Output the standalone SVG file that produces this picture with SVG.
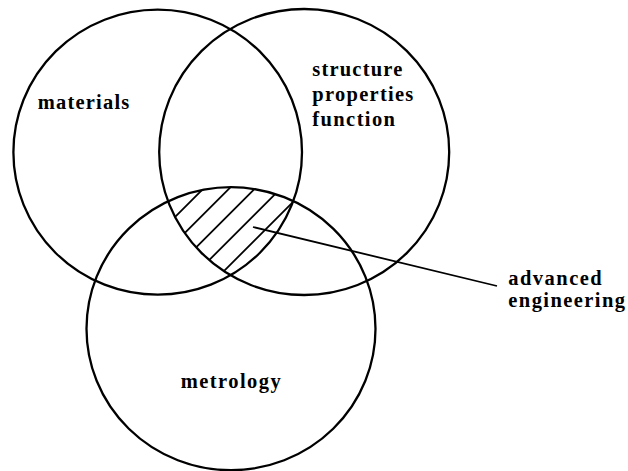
<svg xmlns="http://www.w3.org/2000/svg" width="628" height="471" viewBox="0 0 628 471">
<style>
.c{fill:none;stroke:#000;stroke-width:2.3}
.h{stroke:#000;stroke-width:1.8}
.l{stroke:#000;stroke-width:1.8;fill:none}
.t{font-family:"Liberation Serif",serif;font-weight:bold;font-size:20.5px;fill:#000}
</style>
<defs>
<clipPath id="cA"><ellipse cx="157.7" cy="152.2" rx="144.3" ry="142.5"/></clipPath>
<clipPath id="cB"><ellipse cx="304.2" cy="152" rx="145" ry="143"/></clipPath>
<clipPath id="cC"><ellipse cx="231" cy="328.7" rx="144.5" ry="141.5"/></clipPath>
</defs>
<rect width="628" height="471" fill="#fff"/>
<g id="hatch">
<g clip-path="url(#cA)"><g clip-path="url(#cB)"><g clip-path="url(#cC)">
<line class="h" x1="150" y1="242" x2="330" y2="62"/>
<line class="h" x1="150" y1="267.75" x2="330" y2="87.75"/>
<line class="h" x1="150" y1="293.5" x2="330" y2="113.5"/>
<line class="h" x1="150" y1="319.25" x2="330" y2="139.25"/>
<line class="h" x1="150" y1="345" x2="330" y2="165"/>
</g></g></g>
</g>
<g id="materials">
<ellipse class="c" cx="157.7" cy="152.2" rx="144.3" ry="142.5"/>
<text class="t" x="37.7" y="109.3" textLength="91.6" lengthAdjust="spacing">materials</text>
</g>
<g id="structure">
<ellipse class="c" cx="304.2" cy="152" rx="145" ry="143"/>
<text class="t" x="312.3" y="76" textLength="90" lengthAdjust="spacing">structure</text>
<text class="t" x="312.3" y="101" textLength="101" lengthAdjust="spacing">properties</text>
<text class="t" x="312.3" y="126" textLength="82.7" lengthAdjust="spacing">function</text>
</g>
<g id="metrology">
<ellipse class="c" cx="231" cy="328.7" rx="144.5" ry="141.5"/>
<text class="t" x="180.7" y="388" textLength="100" lengthAdjust="spacing">metrology</text>
</g>
<g id="connectors">
<line class="l" x1="253" y1="227" x2="497" y2="286"/>
</g>
<g id="advanced-engineering">
<text class="t" x="508.3" y="285" textLength="93.4" lengthAdjust="spacing">advanced</text>
<text class="t" x="508.3" y="306.7" textLength="116.7" lengthAdjust="spacing">engineering</text>
</g>
</svg>
